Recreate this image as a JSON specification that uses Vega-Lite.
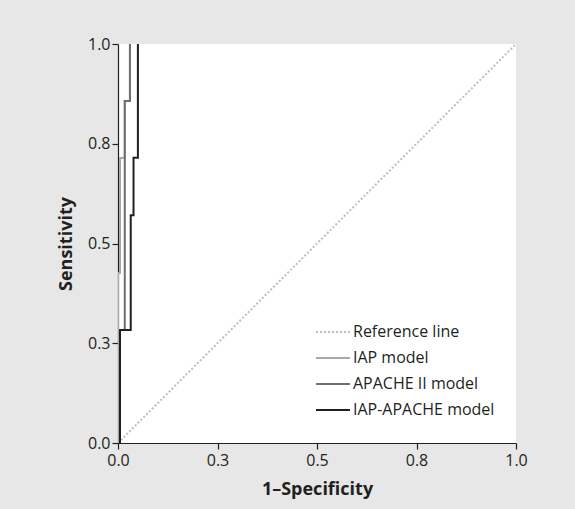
{
  "$schema": "https://vega.github.io/schema/vega-lite/v6.json",
  "width": 398,
  "height": 399,
  "autosize": {"type": "none"},
  "padding": {"left": 118, "top": 44, "right": 59, "bottom": 66},
  "background": "#e6e7e6",
  "view": {"fill": "white", "stroke": null},
  "config": {
    "font": "Open Sans",
    "axis": {
      "domainColor": "#231f20",
      "domainWidth": 1.2,
      "tickColor": "#231f20",
      "tickWidth": 1.2,
      "tickSize": 6,
      "labelFont": "Open Sans",
      "labelFontSize": 16,
      "labelColor": "#231f20",
      "labelFlush": false,
      "titleFont": "Open Sans",
      "titleFontSize": 18,
      "titleFontWeight": "bold",
      "titleColor": "#231f20",
      "grid": false
    },
    "legend": {
      "labelFont": "Open Sans",
      "labelFontSize": 16,
      "labelColor": "#231f20"
    }
  },
  "data": {
    "values": [
      {"series": "Reference line", "step": 0, "fpr": 0, "tpr": 0},
      {"series": "Reference line", "step": 1, "fpr": 1, "tpr": 1},
      {"series": "IAP model", "step": 0, "fpr": 0, "tpr": 0},
      {"series": "IAP model", "step": 1, "fpr": 0, "tpr": 0.426},
      {"series": "IAP model", "step": 2, "fpr": 0.005, "tpr": 0.426},
      {"series": "IAP model", "step": 3, "fpr": 0.005, "tpr": 0.714},
      {"series": "IAP model", "step": 4, "fpr": 0.017, "tpr": 0.714},
      {"series": "IAP model", "step": 5, "fpr": 0.017, "tpr": 0.857},
      {"series": "IAP model", "step": 6, "fpr": 0.03, "tpr": 0.857},
      {"series": "IAP model", "step": 7, "fpr": 0.03, "tpr": 1},
      {"series": "APACHE II model", "step": 0, "fpr": 0.005, "tpr": 0},
      {"series": "APACHE II model", "step": 1, "fpr": 0.005, "tpr": 0.283},
      {"series": "APACHE II model", "step": 2, "fpr": 0.017, "tpr": 0.283},
      {"series": "APACHE II model", "step": 3, "fpr": 0.017, "tpr": 0.857},
      {"series": "APACHE II model", "step": 4, "fpr": 0.03, "tpr": 0.857},
      {"series": "APACHE II model", "step": 5, "fpr": 0.03, "tpr": 1},
      {"series": "IAP-APACHE model", "step": 0, "fpr": 0.005, "tpr": 0},
      {"series": "IAP-APACHE model", "step": 1, "fpr": 0.005, "tpr": 0.283},
      {"series": "IAP-APACHE model", "step": 2, "fpr": 0.032, "tpr": 0.283},
      {"series": "IAP-APACHE model", "step": 3, "fpr": 0.032, "tpr": 0.571},
      {"series": "IAP-APACHE model", "step": 4, "fpr": 0.039, "tpr": 0.571},
      {"series": "IAP-APACHE model", "step": 5, "fpr": 0.039, "tpr": 0.715},
      {"series": "IAP-APACHE model", "step": 6, "fpr": 0.05, "tpr": 0.715},
      {"series": "IAP-APACHE model", "step": 7, "fpr": 0.05, "tpr": 1}
    ]
  },
  "encoding": {
    "x": {
      "field": "fpr", "type": "quantitative", "title": "1–Specificity",
      "scale": {"domain": [0, 1], "nice": false},
      "axis": {"values": [0, 0.25, 0.5, 0.75, 1], "format": ".1f", "labelPadding": 3, "titlePadding": 12}
    },
    "y": {
      "field": "tpr", "type": "quantitative", "title": "Sensitivity",
      "scale": {"domain": [0, 1], "nice": false},
      "axis": {"values": [0, 0.25, 0.5, 0.75, 1], "format": ".1f", "labelPadding": 2, "titlePadding": 12}
    },
    "order": {"field": "step", "type": "quantitative"},
    "color": {
      "field": "series", "type": "nominal",
      "scale": {
        "domain": ["Reference line", "IAP model", "APACHE II model", "IAP-APACHE model"],
        "range": ["#bcbec0", "#a7a9ac", "#6d6e71", "#231f20"]
      },
      "legend": {
        "title": null,
        "orient": "none",
        "legendX": 197,
        "legendY": 270,
        "symbolType": "stroke",
        "symbolSize": 1150,
        "symbolStrokeWidth": 2,
        "labelOffset": 2,
        "rowPadding": -8
      }
    },
    "strokeDash": {
      "field": "series", "type": "nominal",
      "scale": {
        "domain": ["Reference line", "IAP model", "APACHE II model", "IAP-APACHE model"],
        "range": [[2, 2], [1, 0], [1, 0], [1, 0]]
      },
      "legend": {
        "title": null,
        "orient": "none",
        "legendX": 197,
        "legendY": 270,
        "symbolType": "stroke",
        "symbolSize": 1150,
        "symbolStrokeWidth": 2,
        "labelOffset": 2,
        "rowPadding": -8
      }
    }
  },
  "layer": [
    {"transform": [{"filter": "datum.series === 'Reference line'"}], "mark": {"type": "line", "strokeWidth": 2, "clip": true}},
    {"transform": [{"filter": "datum.series === 'IAP model'"}], "mark": {"type": "line", "strokeWidth": 2, "clip": true}},
    {"transform": [{"filter": "datum.series === 'APACHE II model'"}], "mark": {"type": "line", "strokeWidth": 2, "clip": true}},
    {"transform": [{"filter": "datum.series === 'IAP-APACHE model'"}], "mark": {"type": "line", "strokeWidth": 2, "clip": true}}
  ]
}
